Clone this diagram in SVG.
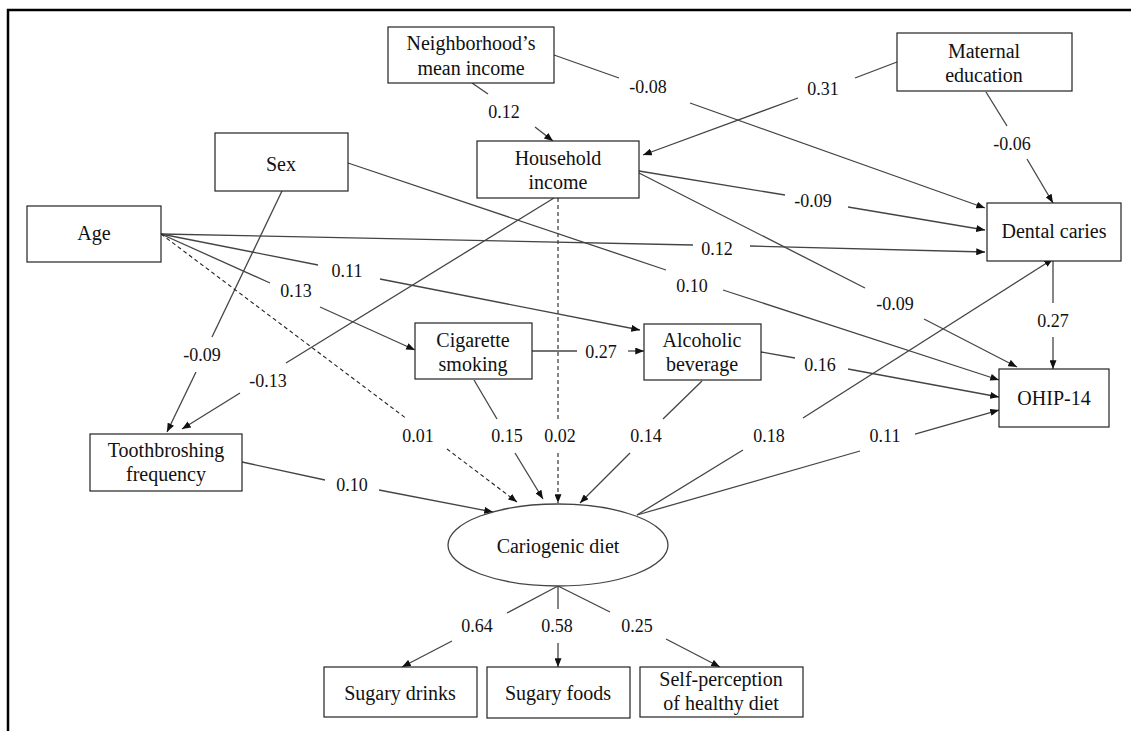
<svg xmlns="http://www.w3.org/2000/svg" width="1131" height="731" viewBox="0 0 1131 731">
<style>
.box{fill:#fff;stroke:#222;stroke-width:1.2}
.nt{font-size:20px;fill:#111;text-anchor:middle}
.lb{font-size:18px;fill:#111;text-anchor:middle}
.ln{stroke:#444;stroke-width:1.3;fill:none}
.ds{stroke:#222;stroke-width:1.1;fill:none;stroke-dasharray:4,3}
</style>
<defs>
<marker id="ah" viewBox="0 0 10 8" refX="10" refY="4" markerWidth="9" markerHeight="7" markerUnits="userSpaceOnUse" orient="auto">
<path d="M0,0 L10,4 L0,8 z" fill="#111"/>
</marker>
</defs>
<rect width="1131" height="731" fill="#fff"/>
<path d="M8,731 L8,10 L1131,10" fill="none" stroke="#000" stroke-width="2.5"/>
<g font-family="Times New Roman, Liberation Serif, Tinos, DejaVu Serif, serif">
<g id="connectors">
<line class="ln" x1="472" y1="83" x2="488" y2="94"/>
<line class="ln" x1="535" y1="127" x2="553" y2="141" marker-end="url(#ah)"/>
<line class="ln" x1="554" y1="55" x2="619" y2="78"/>
<line class="ln" x1="690" y1="103" x2="985" y2="208" marker-end="url(#ah)"/>
<line class="ln" x1="897" y1="62" x2="855" y2="78"/>
<line class="ln" x1="798" y1="98" x2="643" y2="155" marker-end="url(#ah)"/>
<line class="ln" x1="986" y1="92" x2="1007" y2="126"/>
<line class="ln" x1="1027" y1="159" x2="1053" y2="203" marker-end="url(#ah)"/>
<line class="ln" x1="639" y1="171" x2="785" y2="195"/>
<line class="ln" x1="848" y1="207" x2="985" y2="230" marker-end="url(#ah)"/>
<line class="ln" x1="639" y1="173" x2="865" y2="288"/>
<line class="ln" x1="924" y1="319" x2="1017" y2="367" marker-end="url(#ah)"/>
<line class="ln" x1="554" y1="198" x2="286" y2="363"/>
<line class="ln" x1="240" y1="393" x2="182" y2="429" marker-end="url(#ah)"/>
<line class="ds" x1="558" y1="198" x2="558" y2="419"/>
<line class="ds" x1="558" y1="453" x2="558" y2="503" marker-end="url(#ah)"/>
<line class="ln" x1="282" y1="191" x2="212" y2="337"/>
<line class="ln" x1="196" y1="372" x2="167" y2="432" marker-end="url(#ah)"/>
<line class="ln" x1="348" y1="163" x2="666" y2="270"/>
<line class="ln" x1="723" y1="290" x2="999" y2="380" marker-end="url(#ah)"/>
<line class="ln" x1="161" y1="234" x2="693" y2="245"/>
<line class="ln" x1="750" y1="246" x2="985" y2="252" marker-end="url(#ah)"/>
<line class="ln" x1="161" y1="234" x2="318" y2="265"/>
<line class="ln" x1="380" y1="279" x2="640" y2="330" marker-end="url(#ah)"/>
<line class="ln" x1="161" y1="234" x2="270" y2="283"/>
<line class="ln" x1="320" y1="307" x2="415" y2="350" marker-end="url(#ah)"/>
<line class="ds" x1="161" y1="234" x2="407" y2="419"/>
<line class="ds" x1="447" y1="449" x2="517" y2="502" marker-end="url(#ah)"/>
<line class="ln" x1="532" y1="351" x2="577" y2="351"/>
<line class="ln" x1="628" y1="351" x2="644" y2="351" marker-end="url(#ah)"/>
<line class="ln" x1="474" y1="380" x2="497" y2="419"/>
<line class="ln" x1="515" y1="453" x2="543" y2="499" marker-end="url(#ah)"/>
<line class="ln" x1="702" y1="381" x2="663" y2="419"/>
<line class="ln" x1="630" y1="453" x2="580" y2="503" marker-end="url(#ah)"/>
<line class="ln" x1="761" y1="352" x2="795" y2="358"/>
<line class="ln" x1="848" y1="369" x2="999" y2="397" marker-end="url(#ah)"/>
<line class="ln" x1="637" y1="515" x2="743" y2="450"/>
<line class="ln" x1="803" y1="418" x2="1053" y2="259" marker-end="url(#ah)"/>
<line class="ln" x1="637" y1="515" x2="860" y2="451"/>
<line class="ln" x1="915" y1="434" x2="999" y2="410" marker-end="url(#ah)"/>
<line class="ln" x1="1053" y1="261" x2="1053" y2="303"/>
<line class="ln" x1="1053" y1="337" x2="1053" y2="369" marker-end="url(#ah)"/>
<line class="ln" x1="242" y1="462" x2="325" y2="480"/>
<line class="ln" x1="379" y1="490" x2="493" y2="512" marker-end="url(#ah)"/>
<line class="ln" x1="558" y1="586" x2="507" y2="613"/>
<line class="ln" x1="452" y1="641" x2="402" y2="667" marker-end="url(#ah)"/>
<line class="ln" x1="558" y1="586" x2="558" y2="609"/>
<line class="ln" x1="558" y1="643" x2="558" y2="667" marker-end="url(#ah)"/>
<line class="ln" x1="558" y1="586" x2="610" y2="612"/>
<line class="ln" x1="666" y1="639" x2="720" y2="667" marker-end="url(#ah)"/>

<g id="labels">
<text class="lb" x="504" y="118">0.12</text>
<text class="lb" x="648" y="93">-0.08</text>
<text class="lb" x="823" y="95">0.31</text>
<text class="lb" x="1012" y="150">-0.06</text>
<text class="lb" x="813" y="207">-0.09</text>
<text class="lb" x="895" y="310">-0.09</text>
<text class="lb" x="268" y="387">-0.13</text>
<text class="lb" x="202" y="361">-0.09</text>
<text class="lb" x="347" y="277">0.11</text>
<text class="lb" x="296" y="297">0.13</text>
<text class="lb" x="717" y="255">0.12</text>
<text class="lb" x="692" y="292">0.10</text>
<text class="lb" x="601" y="358">0.27</text>
<text class="lb" x="418" y="442">0.01</text>
<text class="lb" x="507" y="442">0.15</text>
<text class="lb" x="560" y="442">0.02</text>
<text class="lb" x="646" y="442">0.14</text>
<text class="lb" x="769" y="442">0.18</text>
<text class="lb" x="820" y="371">0.16</text>
<text class="lb" x="885" y="442">0.11</text>
<text class="lb" x="1053" y="327">0.27</text>
<text class="lb" x="352" y="491">0.10</text>
<text class="lb" x="477" y="632">0.64</text>
<text class="lb" x="557" y="632">0.58</text>
<text class="lb" x="637" y="632">0.25</text>
</g>
</g>

<g id="neighborhood"><rect class="box" x="388" y="27" width="166" height="56"/><text class="nt" x="471" y="50">Neighborhood’s</text><text class="nt" x="471" y="75">mean income</text></g>
<g id="maternal"><rect class="box" x="897" y="33" width="175" height="58"/><text class="nt" x="984" y="58">Maternal</text><text class="nt" x="984" y="82">education</text></g>
<g id="sex"><rect class="box" x="215" y="133" width="133" height="58"/><text class="nt" x="281" y="171">Sex</text></g>
<g id="household"><rect class="box" x="477" y="141" width="162" height="57"/><text class="nt" x="558" y="165">Household</text><text class="nt" x="558" y="189">income</text></g>
<g id="age"><rect class="box" x="27" y="206" width="134" height="56"/><text class="nt" x="94" y="240">Age</text></g>
<g id="dental"><rect class="box" x="987" y="203" width="134" height="58"/><text class="nt" x="1054" y="238">Dental caries</text></g>
<g id="cigarette"><rect class="box" x="415" y="323" width="117" height="56"/><text class="nt" x="473" y="347">Cigarette</text><text class="nt" x="473" y="371">smoking</text></g>
<g id="alcoholic"><rect class="box" x="644" y="324" width="117" height="56"/><text class="nt" x="702" y="347">Alcoholic</text><text class="nt" x="702" y="371">beverage</text></g>
<g id="ohip"><rect class="box" x="999" y="369" width="110" height="58"/><text class="nt" x="1054" y="405">OHIP-14</text></g>
<g id="toothbrushing"><rect class="box" x="90" y="434" width="152" height="57"/><text class="nt" x="166" y="457">Toothbroshing</text><text class="nt" x="166" y="481">frequency</text></g>
<g id="cariogenic"><ellipse cx="558" cy="545" rx="110" ry="41" fill="#fff" stroke="#444" stroke-width="1.3"/><text class="nt" x="558" y="553">Cariogenic diet</text></g>
<g id="sugary-drinks"><rect class="box" x="324" y="667" width="153" height="50"/><text class="nt" x="400" y="700">Sugary drinks</text></g>
<g id="sugary-foods"><rect class="box" x="487" y="667" width="143" height="51"/><text class="nt" x="558" y="700">Sugary foods</text></g>
<g id="self-perception"><rect class="box" x="640" y="667" width="163" height="50"/><text class="nt" x="721" y="686">Self-perception</text><text class="nt" x="721" y="710">of healthy diet</text></g>
</g>
</svg>
